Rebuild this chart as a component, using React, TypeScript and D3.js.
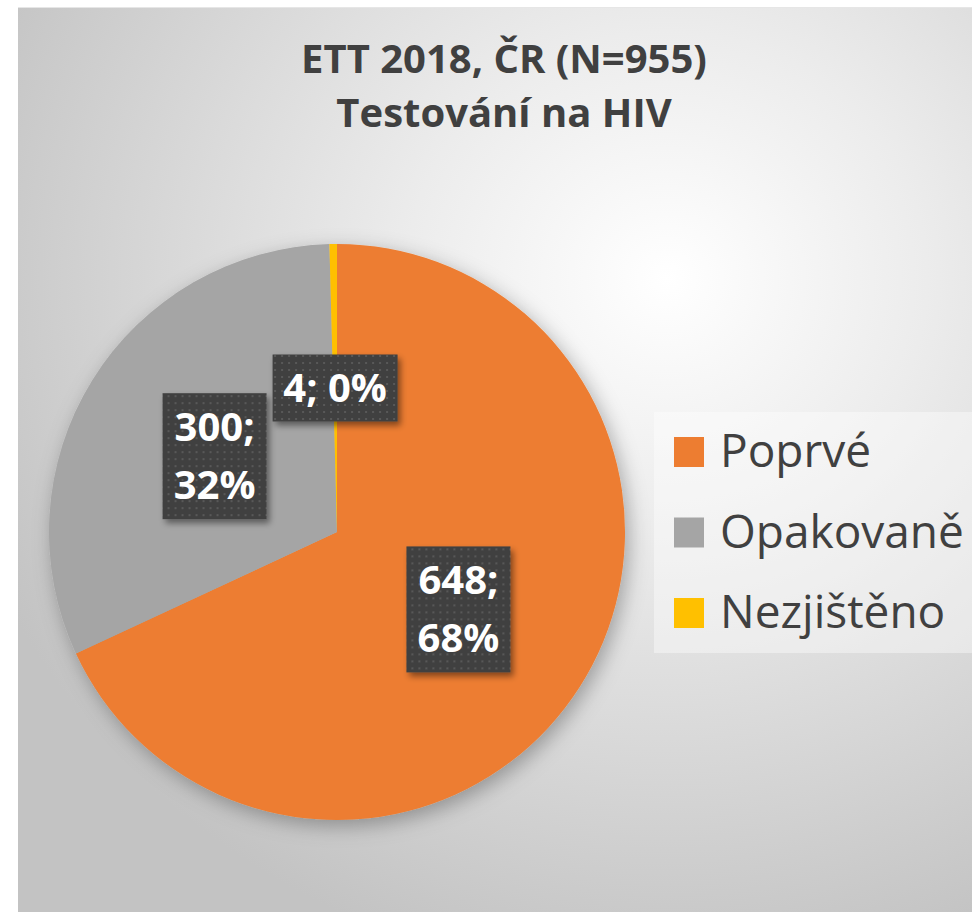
import React from "react";
import * as d3 from "d3";

const WIDTH = 972;
const HEIGHT = 912;

const titleLines = ["ETT 2018, ČR (N=955)", "Testování na HIV"];
const categories = ["Poprvé", "Opakovaně", "Nezjištěno"];
const values = [648, 300, 4];
const colors = ["#ED7D31", "#A5A5A5", "#FFC000"];

const CX = 337;
const CY = 532;
const RADIUS = 288;
const FONT = "'Open Sans', 'Noto Sans', sans-serif";

const total = d3.sum(values);

const pie = d3
  .pie<number>()
  .sort(null)
  .value((d) => d);

const arc = d3.arc<d3.PieArcDatum<number>>().innerRadius(0).outerRadius(RADIUS);

export default function App() {
  const slices = pie(values);

  return (
    <svg
      width={WIDTH}
      height={HEIGHT}
      style={{ position: "absolute", left: 0, top: 0, display: "block" }}
    >
      <defs>
        <radialGradient id="bg" cx="0.68" cy="0.3" r="0.78">
          <stop offset="0" stopColor="#ffffff" />
          <stop offset="0.35" stopColor="#ececec" />
          <stop offset="1" stopColor="#c3c3c3" />
        </radialGradient>
        <filter id="pieShadow" x="-20%" y="-20%" width="140%" height="140%">
          <feDropShadow dx="4" dy="6" stdDeviation="10" floodColor="#000" floodOpacity="0.3" />
        </filter>
        <filter id="boxShadow" x="-20%" y="-20%" width="150%" height="150%">
          <feDropShadow dx="3" dy="4" stdDeviation="3" floodColor="#000" floodOpacity="0.45" />
        </filter>
        <pattern id="dots" width="7" height="7" patternUnits="userSpaceOnUse">
          <rect width="7" height="7" fill="#404040" />
          <rect x="2" y="2" width="2" height="2" fill="#595959" />
        </pattern>
      </defs>

      <rect x={18} y={7} width={WIDTH - 18} height={HEIGHT - 7} fill="url(#bg)" />
      <line x1={18} x2={WIDTH} y1={7.5} y2={7.5} stroke="#e6e6e6" strokeWidth={1} />

      {titleLines.map((t, i) => (
        <text
          key={t}
          x={504}
          y={73 + i * 54}
          textAnchor="middle"
          fontFamily={FONT}
          fontWeight="bold"
          fontSize={40}
          fill="#404040"
        >
          {t}
        </text>
      ))}

      <g transform={`translate(${CX},${CY})`}>
        <g filter="url(#pieShadow)">
          {slices.map((s, i) => (
            <path key={categories[i]} d={arc(s) || ""} fill={colors[i]} />
          ))}
        </g>
        {slices.map((s, i) => {
          const [lx, ly] = arc.centroid(s);
          const pct = Math.round((s.value / total) * 100);
          const small = s.endAngle - s.startAngle < 0.2;
          const lines = small ? [`${s.value}; ${pct}%`] : [`${s.value};`, `${pct}%`];
          const bw = small ? 125 : 104;
          const bh = small ? 67 : 126;
          return (
            <g key={"lbl" + categories[i]} transform={`translate(${lx},${ly})`}>
              <rect
                x={-bw / 2}
                y={-bh / 2}
                width={bw}
                height={bh}
                fill="url(#dots)"
                filter="url(#boxShadow)"
              />
              {lines.map((l, j) => (
                <text
                  key={l}
                  x={0}
                  y={(j - (lines.length - 1) / 2) * 58 + 14}
                  textAnchor="middle"
                  fontFamily={FONT}
                  fontWeight="bold"
                  fontSize={40}
                  fill="#ffffff"
                >
                  {l}
                </text>
              ))}
            </g>
          );
        })}
      </g>

      <rect x={654} y={412} width={WIDTH - 654} height={241} fill="#ffffff" opacity={0.4} />
      {categories.map((c, i) => (
        <g key={"leg" + c} transform={`translate(674,${437 + i * 80.5})`}>
          <rect width={30} height={30} fill={colors[i]} />
          <text x={46} y={30} fontFamily={FONT} fontSize={46} fill="#404040">
            {c}
          </text>
        </g>
      ))}
    </svg>
  );
}
